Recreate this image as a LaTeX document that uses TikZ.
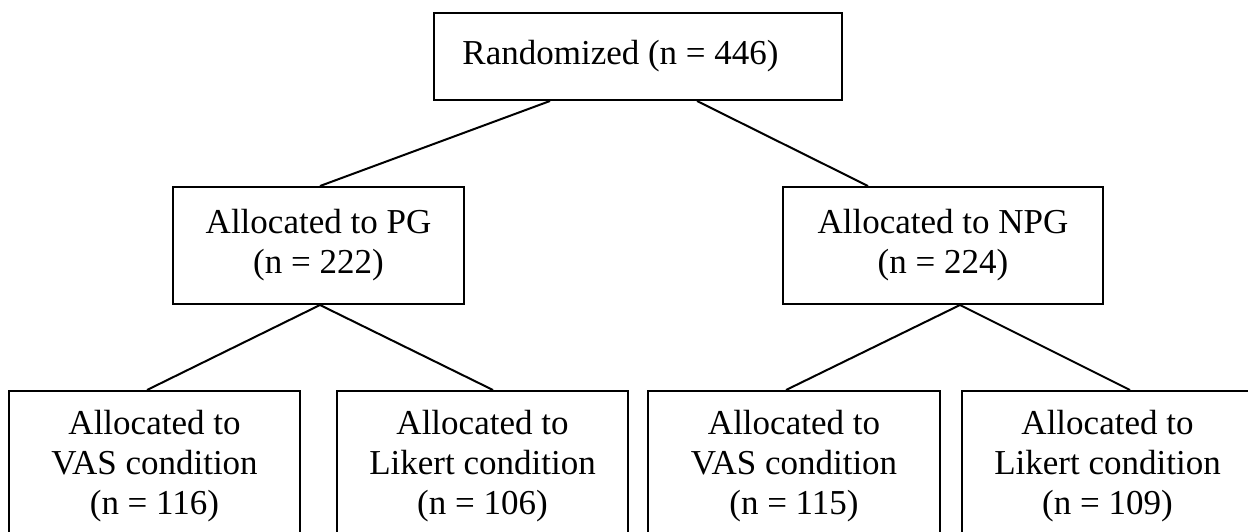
\documentclass[tikz,border=0pt]{standalone}
\usepackage{fontspec}
\setmainfont{Liberation Serif}
\begin{document}
\begin{tikzpicture}[x=0.5pt,y=-0.5pt,
  box/.style={draw, line width=1pt, inner sep=0pt, align=center,
    font=\fontsize{17.5}{20}\selectfont},
  link/.style={line width=1pt}]
\useasboundingbox (0,0) rectangle (1248,531);
\clip (0,0) rectangle (1248,531);
% boxes
\node[box, minimum width=204pt, minimum height=43.5pt] (top) at (638,56.5) {Randomized (n = 446)\hspace*{17.5pt}};
\node[box, minimum width=145.5pt, minimum height=58.5pt] (pg) at (318.5,245.5) {Allocated to PG\\(n = 222)};
\node[box, minimum width=160pt, minimum height=58.5pt] (npg) at (943,245.5) {Allocated to NPG\\(n = 224)};
\node[box, minimum width=145.5pt, minimum height=75pt] (b1) at (154.5,466) {Allocated to\\VAS condition\\(n = 116)};
\node[box, minimum width=145.5pt, minimum height=75pt] (b2) at (482.5,466) {Allocated to\\Likert condition\\(n = 106)};
\node[box, minimum width=146pt, minimum height=75pt] (b3) at (794,466) {Allocated to\\VAS condition\\(n = 115)};
\node[box, minimum width=145.5pt, minimum height=75pt] (b4) at (1107.5,466) {Allocated to\\Likert condition\\(n = 109)};
% connection points
\path (top.south) ++(-88,0) coordinate (tl);
\path (top.south) ++(59,0) coordinate (tr);
\path (pg.north) ++(1.5,0) coordinate (pgn);
\path (npg.north) ++(-75,0) coordinate (npgn);
\path (pg.south) ++(1.5,0) coordinate (pgs);
\path (npg.south) ++(17,0) coordinate (npgs);
\path (b1.north) ++(-7.5,0) coordinate (b1n);
\path (b2.north) ++(10.5,0) coordinate (b2n);
\path (b3.north) ++(-8,0) coordinate (b3n);
\path (b4.north) ++(22.5,0) coordinate (b4n);
% connectors
\draw[link] (tl) -- (pgn);
\draw[link] (tr) -- (npgn);
\draw[link] (pgs) -- (b1n);
\draw[link] (pgs) -- (b2n);
\draw[link] (npgs) -- (b3n);
\draw[link] (npgs) -- (b4n);
\end{tikzpicture}
\end{document}
